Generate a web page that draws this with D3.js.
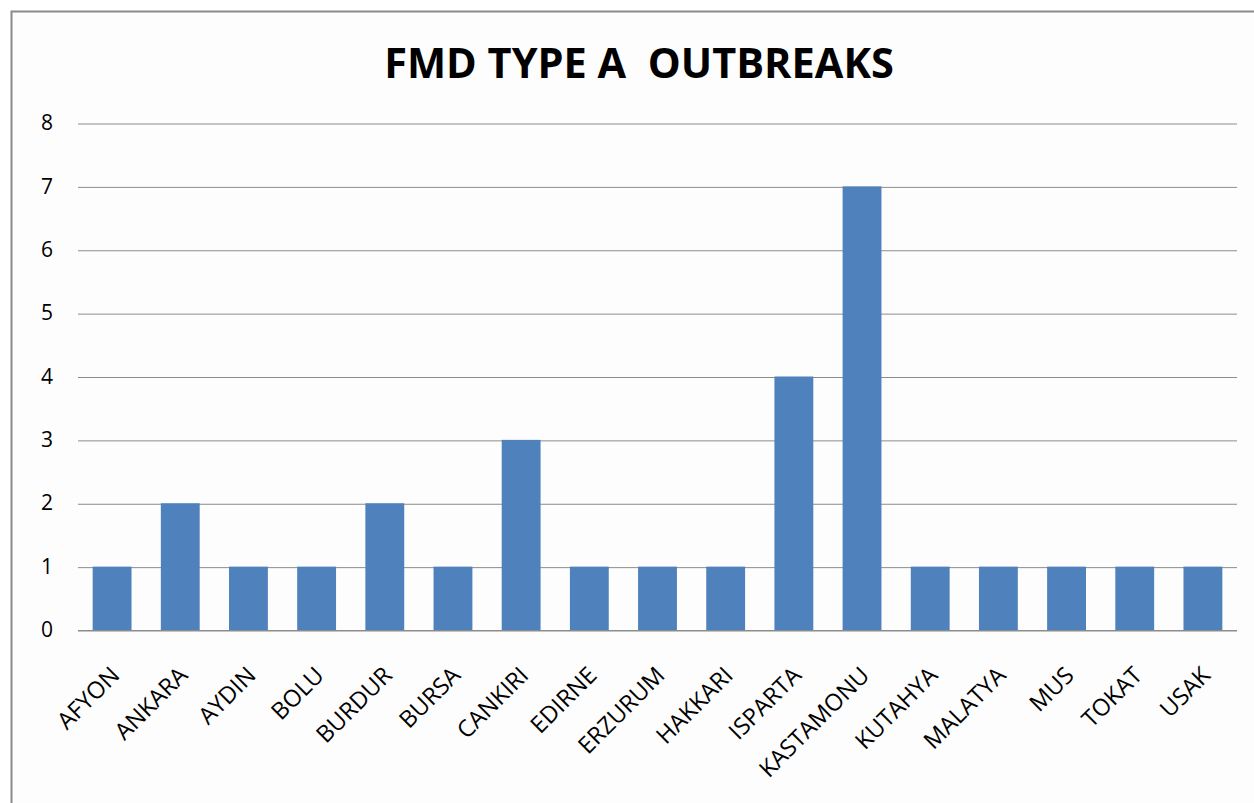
<!DOCTYPE html>
<html>
  <head>
    <meta charset="utf-8">
    <title>FMD Type A outbreaks</title>
    <script src="https://cdn.jsdelivr.net/npm/d3@7"></script>
    <style>
      body { margin: 0; background: #fff; }
      #chart { display: block; font-family: "Open Sans", "DejaVu Sans", sans-serif; }
      .grid line { stroke: #8c8c8c; stroke-width: 1; }
      .grid .domain { display: none; }
      .yAxis text { fill: #000; font-size: 21px; }
      .xAxis text { fill: #000; font-size: 23.5px; }
      .title { font-size: 41.5px; font-weight: bold; }
    </style>
  </head>

  <body>
    <svg id="chart" width="1254" height="803"></svg>

    <script>
      // chart data
      provinces = ["AFYON", "ANKARA", "AYDIN", "BOLU", "BURDUR", "BURSA", "CANKIRI", "EDIRNE", "ERZURUM",
        "HAKKARI", "ISPARTA", "KASTAMONU", "KUTAHYA", "MALATYA", "MUS", "TOKAT", "USAK"];
      outbreaks = [1, 2, 1, 1, 2, 1, 3, 1, 1, 1, 4, 7, 1, 1, 1, 1, 1];
      yTicks = [0, 1, 2, 3, 4, 5, 6, 7, 8];
      titleText = "FMD TYPE A\u00a0\u00a0OUTBREAKS";

      chart = d3.select("#chart");
      margin = { top: 123, right: 17, bottom: 173, left: 78 };
      width = 1254;
      height = 803;

      // frame
      chart.append("rect")
        .attr("x", 11.5)
        .attr("y", 11.5)
        .attr("width", 1260)
        .attr("height", 820)
        .attr("fill", "#fdfdfd")
        .attr("stroke", "#8a8a8a")
        .attr("stroke-width", 2);

      x = d3.scaleBand()
        .domain(provinces)
        .range([margin.left, width - margin.right])
        .paddingInner(0.43)
        .paddingOuter(0.215);
      y = d3.scaleLinear()
        .domain([0, 8])
        .range([height - margin.bottom, margin.top]);

      // gridlines
      chart.append("g")
        .attr("class", "grid")
        .attr("transform", "translate(" + margin.left + ", 0)")
        .call(d3.axisLeft(y)
          .tickValues(yTicks)
          .tickSize(-(width - margin.left - margin.right))
          .tickFormat(""))
        .selectAll("line")
          .attr("transform", "translate(0, 0.5)");

      // bars
      chart.append("g")
        .selectAll("rect")
        .data(outbreaks)
        .join("rect")
          .attr("x", function(d, i) { return x(provinces[i]); })
          .attr("y", function(d) { return y(d); })
          .attr("width", x.bandwidth())
          .attr("height", function(d) { return y(0) - y(d); })
          .attr("fill", "#4f81bd");

      // baseline
      chart.append("line")
        .attr("x1", margin.left)
        .attr("x2", width - margin.right)
        .attr("y1", y(0) + 0.5)
        .attr("y2", y(0) + 0.5)
        .attr("stroke", "#8c8c8c");

      // y axis labels
      yAxisGroup = chart.append("g")
        .attr("class", "yAxis")
        .attr("transform", "translate(" + (margin.left - 25) + ", 0)")
        .call(d3.axisLeft(y).tickValues(yTicks).tickSize(0).tickPadding(0))
        .attr("font-family", null)
        .attr("font-size", null);
      yAxisGroup.select(".domain").remove();

      // x axis labels
      xAxisGroup = chart.append("g")
        .attr("class", "xAxis")
        .attr("transform", "translate(0, " + (y(0) + 22) + ")")
        .call(d3.axisBottom(x).tickSize(0).tickPadding(0))
        .attr("font-family", null)
        .attr("font-size", null);
      xAxisGroup.select(".domain").remove();
      xAxisGroup.selectAll("text")
        .attr("text-anchor", "end")
        .attr("dy", "0.35em")
        .attr("transform", "translate(3, 19) rotate(-45)");

      // title
      chart.append("text")
        .attr("class", "title")
        .attr("x", 639)
        .attr("y", 78)
        .attr("text-anchor", "middle")
        .text(titleText);
    </script>
  </body>
</html>
